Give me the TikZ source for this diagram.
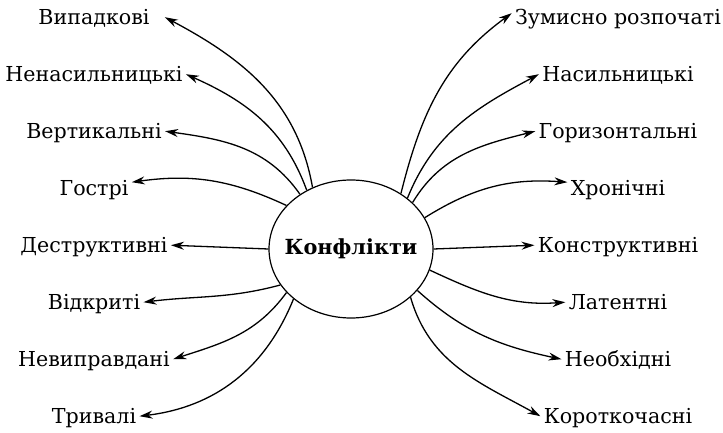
\documentclass[tikz,border=0pt]{standalone}
\usepackage{fontspec}
\setmainfont{DejaVu Serif}
\usepackage{tikz}
\usetikzlibrary{positioning, arrows.meta, shapes.geometric}

\begin{document}
\begin{tikzpicture}[
  x=0.5pt, y=0.5pt,
  font=\fontsize{10.3}{12}\selectfont,
  hub/.style={draw, ellipse, line width=0.6pt, inner sep=0pt,
    minimum width=82pt, minimum height=69pt},
  title/.style={font=\fontsize{10.4}{12}\selectfont\bfseries},
  kind/.style={inner sep=1.5pt, text height=1.5ex, text depth=0pt, anchor=base},
  link/.style={line width=0.65pt, -{Stealth[length=6.5pt, width=4pt]}},
]
  \useasboundingbox (0,0) rectangle (723,433);
  \node[hub] (conf) at (351,184) {};
  \node[title] (conftxt) at (conf) {Конфлікти};

  % left column
  \node[kind] (vypad) at (94,408) {Випадкові};
  \node[kind] (nenas) at (94,351) {Ненасильницькі};
  \node[kind] (vert)  at (94,294) {Вертикальні};
  \node[kind] (gostr) at (94,237) {Гострі};
  \node[kind] (destr) at (94,180) {Деструктивні};
  \node[kind] (vidkr) at (94,123) {Відкриті};
  \node[kind] (nevyp) at (94,66)  {Невиправдані};
  \node[kind] (tryv)  at (94,9)   {Тривалі};

  % right column
  \node[kind] (zumys)  at (618,408) {Зумисно розпочаті};
  \node[kind] (nasyl)  at (618,351) {Насильницькі};
  \node[kind] (horyz)  at (618,294) {Горизонтальні};
  \node[kind] (khron)  at (618,237) {Хронічні};
  \node[kind] (konstr) at (618,180) {Конструктивні};
  \node[kind] (latent) at (618,123) {Латентні};
  \node[kind] (neobkh) at (618,66)  {Необхідні};
  \node[kind] (korotk) at (618,9)   {Короткочасні};

  % arrows to the left
  \draw[link] (conf.122) to[out=100, in=-28] ([xshift=6pt]vypad.east);
  \draw[link] (conf.127) to[out=110, in=-24] (nenas.east);
  \draw[link] (conf.133) to[out=125, in=-8]  (vert.east);
  \draw[link] (conf.146) to[out=155, in=8]   ([yshift=3pt]gostr.east);
  \draw[link] (conf.180) -- (destr.east);
  \draw[link] (conf.207) to[out=195, in=7]   (vidkr.east);
  \draw[link] (conf.214) to[out=234, in=18]  (nevyp.east);
  \draw[link] (conf.221) to[out=248, in=7]   (tryv.east);

  % arrows to the right
  \draw[link] (conf.48)  to[out=76, in=216]  ([yshift=2pt]zumys.west);
  \draw[link] (conf.42)  to[out=68, in=208]  (nasyl.west);
  \draw[link] (conf.37)  to[out=59, in=194]  (horyz.west);
  \draw[link] (conf.23)  to[out=32, in=176]  ([yshift=3pt]khron.west);
  \draw[link] (conf.0)   -- (konstr.west);
  \draw[link] (conf.-15) to[out=-25, in=184] (latent.west);
  \draw[link] (conf.-32) to[out=-42, in=168] (neobkh.west);
  \draw[link] (conf.-39) to[out=-74, in=151] (korotk.west);
\end{tikzpicture}
\end{document}
